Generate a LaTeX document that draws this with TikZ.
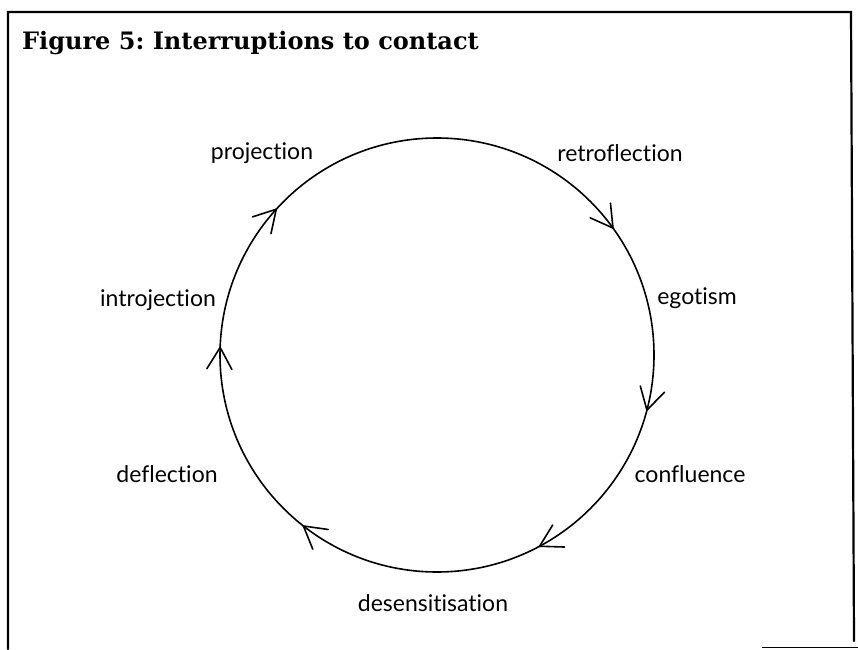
\documentclass[tikz,border=0pt]{standalone}
\usepackage{fontspec}
\setmainfont{Lato}[Ligatures=NoCommon]
\newfontfamily\titlefont{DejaVu Serif}
\usetikzlibrary{calc}
\begin{document}
\frenchspacing
\begin{tikzpicture}[x=1pt,y=1pt,
  frameline/.style={line width=2.2pt, line cap=round},
  ring/.style={line width=1.6pt},
  barb/.style={line width=1.6pt, line cap=round},
  lbl/.style={font=\fontsize{23}{25}\selectfont, inner sep=0pt}]
\useasboundingbox (0,0) rectangle (858,649);
% frame
\draw[frameline] (8,0) -- (8,637) -- (851,637) -- (854,8);
\draw[line width=1pt] (762,2) -- (858,2);
% circle
\coordinate (c) at (437,294);
\draw[ring] (c) circle (217);
% arrow tips (clockwise travel)
\foreach \a/\n in {137.8/aproj, 35.8/aretro, -14.7/aego, -61.8/aconf, -128/adesens, 178/adefl}{
  \coordinate (\n) at ($(c)+(\a:217)$);
  \draw[barb] ($(\n)+(\a+120:25)$) -- (\n) -- ($(\n)+(\a+60:25)$);
}
% title
\node[anchor=base west, inner sep=0pt, font=\titlefont\bfseries\fontsize{24}{28}\selectfont] (title) at (22,599) {Figure 5: Interruptions to contact};
% labels
\node[lbl] (projection) at (262,496) {projection};
\node[lbl] (retroflection) at (620,496) {retroflection};
\node[lbl] (egotism) at (697,351) {egotism};
\node[lbl] (confluence) at (690,175) {confluence};
\node[lbl] (desensitisation) at (433,46) {desensitisation};
\node[lbl] (deflection) at (167,175) {deflection};
\node[lbl] (introjection) at (158,349) {introjection};
\end{tikzpicture}
\end{document}
